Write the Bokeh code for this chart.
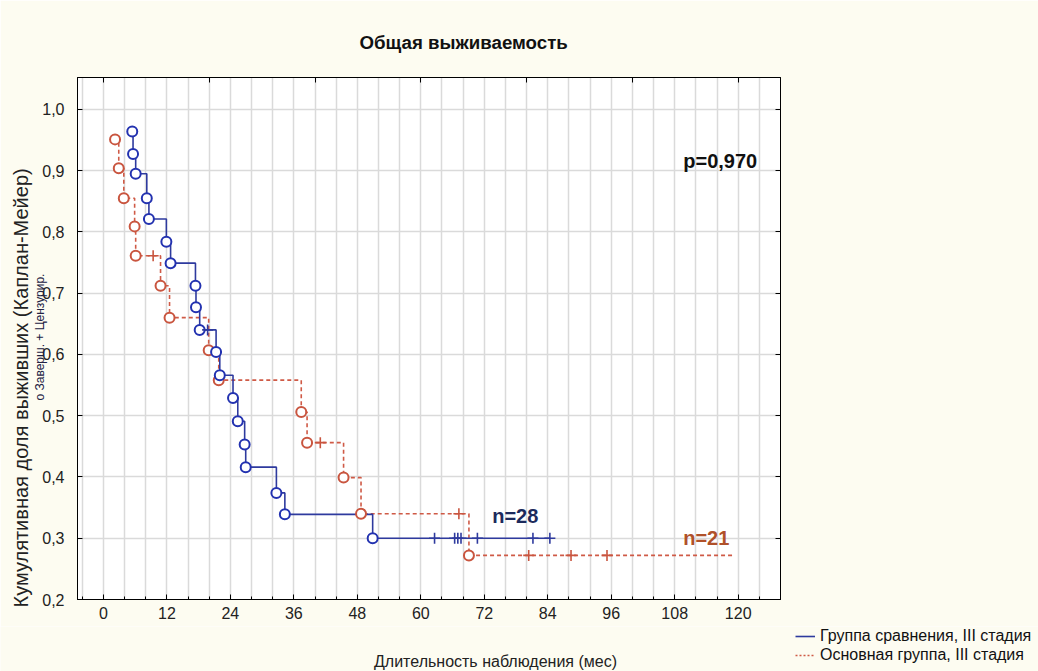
from bokeh.plotting import figure
from bokeh.layouts import column
from bokeh.models import (Range1d, FixedTicker, LinearAxis, Label, Legend, LegendItem,
                          CustomJSTickFormatter, Title)
from bokeh.embed import file_html
from bokeh.resources import INLINE

# ---------------- data ----------------
blue_event_t = [5.45, 5.6, 6.1, 8.2, 8.6, 11.9, 12.7, 17.4, 17.5, 18.2, 21.3, 22.0,
                24.5, 25.4, 26.7, 26.9, 32.7, 34.3, 50.9]
blue_event_s = [0.964, 0.927, 0.895, 0.855, 0.821, 0.784, 0.749, 0.712, 0.677, 0.640,
                0.604, 0.566, 0.529, 0.491, 0.453, 0.416, 0.374, 0.339, 0.300]
blue_cens_t = [19.7, 62.6, 66.4, 67.0, 67.6, 70.7, 81.2, 84.4]
blue_cens_s = [0.640, 0.300, 0.300, 0.300, 0.300, 0.300, 0.300, 0.300]
blue_end_t = 84.4

red_event_t = [2.2, 2.9, 3.85, 5.9, 6.1, 10.8, 12.5, 19.9, 21.8, 37.4, 38.5, 45.4, 48.7, 69.1]
red_event_s = [0.951, 0.904, 0.855, 0.809, 0.761, 0.712, 0.660, 0.607, 0.558, 0.506,
               0.456, 0.399, 0.340, 0.272]
red_cens_t = [9.4, 41.0, 67.2, 80.4, 88.4, 95.2]
red_cens_s = [0.761, 0.456, 0.340, 0.272, 0.272, 0.272]
red_end_t = 119.2

x_ticks = [0, 12, 24, 36, 48, 60, 72, 84, 96, 108, 120]
y_ticks = [0.2, 0.3, 0.4, 0.5, 0.6, 0.7, 0.8, 0.9, 1.0]
top_ticks = [0, 20, 40, 60, 80, 100, 120]

title_text = "Общая выживаемость"
x_label = "Длительность наблюдения (мес)"
y_label = "Кумулятивная доля выживших (Каплан-Мейер)"
key_text = "o Заверш.   + Цензурир."
series_names = ["Группа сравнения, III стадия", "Основная группа, III стадия"]
p_text = "p=0,970"
n_texts = ["n=28", "n=21"]

# ---------------- layout ----------------
W = 1038
FL, FW, FT, FH = 77, 703, 77, 522
MAIN_H = 626
STRIP_H = 671 - MAIN_H
X0, X1 = -4.9, 128.0
Y0, Y1 = 0.2, 1.052

FONT = "Liberation Sans"
BLUE = "#2e3a9e"
BLUE_M = "#2332b0"
RED = "#cf5a46"
RED_M = "#c9553f"
BG = "#fdfcf1"

p = figure(width=W, height=MAIN_H, frame_width=FW, frame_height=FH,
           x_range=Range1d(X0, X1), y_range=Range1d(Y0, Y1),
           min_border_left=FL, min_border_right=W - FL - FW, min_border_top=FT,
           min_border_bottom=MAIN_H - FT - FH, output_backend="svg", toolbar_location=None)
p.frame_align = False
p.background_fill_color = "white"
p.border_fill_color = BG
p.outline_line_color = "black"
p.outline_line_width = 1

# grid
p.xgrid.ticker = FixedTicker(ticks=list(range(-4, 129, 4)))
p.ygrid.ticker = FixedTicker(ticks=y_ticks)
for g in (p.xgrid, p.ygrid):
    g.grid_line_color = "#dadada"
    g.grid_line_width = 1.5

# axes
xa = p.xaxis[0]
xa.ticker = FixedTicker(ticks=x_ticks, minor_ticks=list(range(-4, 129, 4)))
xa.major_tick_in = 5
xa.major_tick_out = 0
xa.minor_tick_in = 3
xa.minor_tick_out = 0
xa.major_label_standoff = 7
xa.major_label_text_font = FONT
xa.major_label_text_font_size = "16px"
xa.major_label_text_color = "#222222"
xa.axis_line_color = "black"

ya = p.yaxis[0]
ya.ticker = FixedTicker(ticks=y_ticks)
ya.formatter = CustomJSTickFormatter(code="return tick.toFixed(1).replace('.', ',');")
ya.major_tick_in = 5
ya.major_tick_out = 0
ya.minor_tick_in = 0
ya.minor_tick_out = 0
ya.major_label_standoff = 13
ya.major_label_text_font = FONT
ya.major_label_text_font_size = "16px"
ya.major_label_text_color = "#222222"
ya.axis_line_color = "black"

empty = CustomJSTickFormatter(code="return '';")
top = LinearAxis(ticker=FixedTicker(ticks=top_ticks), formatter=empty,
                 major_tick_in=5, major_tick_out=0, major_label_standoff=0,
                 minor_tick_in=0, minor_tick_out=0, axis_line_color="black")
p.add_layout(top, "above")
right = LinearAxis(ticker=FixedTicker(ticks=y_ticks), formatter=empty,
                   major_tick_in=5, major_tick_out=0, major_label_standoff=0,
                   minor_tick_in=0, minor_tick_out=0, axis_line_color="black")
p.add_layout(right, "right")

# curves
bx = blue_event_t + [blue_end_t]
by = blue_event_s + [blue_event_s[-1]]
rx = red_event_t + [red_end_t]
ry = red_event_s + [red_event_s[-1]]

p.step(rx, ry, mode="after", line_color=RED, line_width=1.6, line_dash="4 3")
p.step(bx, by, mode="after", line_color=BLUE, line_width=1.6)

p.scatter(red_event_t, red_event_s, marker="circle", size=10, line_color=RED_M,
          line_width=2, fill_color="white")
p.scatter(red_cens_t, red_cens_s, marker="cross", size=11, line_color=RED_M, line_width=1.6)
p.scatter(blue_event_t, blue_event_s, marker="circle", size=10, line_color=BLUE_M,
          line_width=2, fill_color="white")
p.scatter(blue_cens_t, blue_cens_s, marker="cross", size=11, line_color=BLUE, line_width=1.6)

# titles in the side panels (outside the frame)
p.add_layout(Title(text=title_text, text_font=FONT, text_font_size="18.7px",
                   text_font_style="bold", text_color="#111111", align="left",
                   offset=282, standoff=50), "above")
p.add_layout(Title(text=key_text, text_font=FONT, text_font_size="12px",
                   text_font_style="normal", text_color="#222244", align="left",
                   offset=199, standoff=-14), "left")
p.add_layout(Title(text=y_label, text_font=FONT, text_font_size="20px",
                   text_font_style="normal", text_color="#222222", align="left",
                   offset=-8, standoff=12), "left")

# annotations inside the plot
p.add_layout(Label(x=123.6, y=0.915, text=p_text, text_font=FONT, text_font_size="20px",
                   text_font_style="bold", text_align="right", text_baseline="middle",
                   text_color="#111111"))
p.add_layout(Label(x=73.5, y=0.337, text=n_texts[0], text_font=FONT, text_font_size="20px",
                   text_font_style="bold", text_align="left", text_baseline="middle",
                   text_color="#1c2a5c"))
p.add_layout(Label(x=109.6, y=0.300, text=n_texts[1], text_font=FONT, text_font_size="20px",
                   text_font_style="bold", text_align="left", text_baseline="middle",
                   text_color="#b0512a"))

# ---------------- bottom strip: axis title and legend ----------------
s = figure(width=W, height=STRIP_H, x_range=Range1d(0, W), y_range=Range1d(0, STRIP_H),
           min_border=0, x_axis_type=None, y_axis_type=None,
           output_backend="svg", toolbar_location=None)
s.frame_align = False
s.background_fill_color = BG
s.border_fill_color = BG
s.outline_line_color = None
s.xgrid.visible = False
s.ygrid.visible = False

s.add_layout(Label(x=495, y=10, text=x_label, text_font=FONT, text_font_size="16px",
                   text_align="center", text_baseline="middle", text_color="#222222"))

# legend sample renderers (kept outside the visible strip range)
lb = s.line([-20, -10], [-20, -20], line_color=BLUE, line_width=1.6)
lr = s.line([-20, -10], [-20, -20], line_color=RED, line_width=1.6, line_dash="2 2")
legend = Legend(items=[LegendItem(label=series_names[0], renderers=[lb]),
                       LegendItem(label=series_names[1], renderers=[lr])],
                location=(795, 7), padding=0, spacing=1, margin=0,
                glyph_width=20, glyph_height=18, label_height=18, label_standoff=5,
                label_text_font=FONT, label_text_font_size="16px",
                label_text_color="#111111", border_line_alpha=0,
                background_fill_alpha=0)
s.add_layout(legend)

layout = column(p, s, spacing=0)
open("out.html", "w").write(file_html(layout, INLINE))
